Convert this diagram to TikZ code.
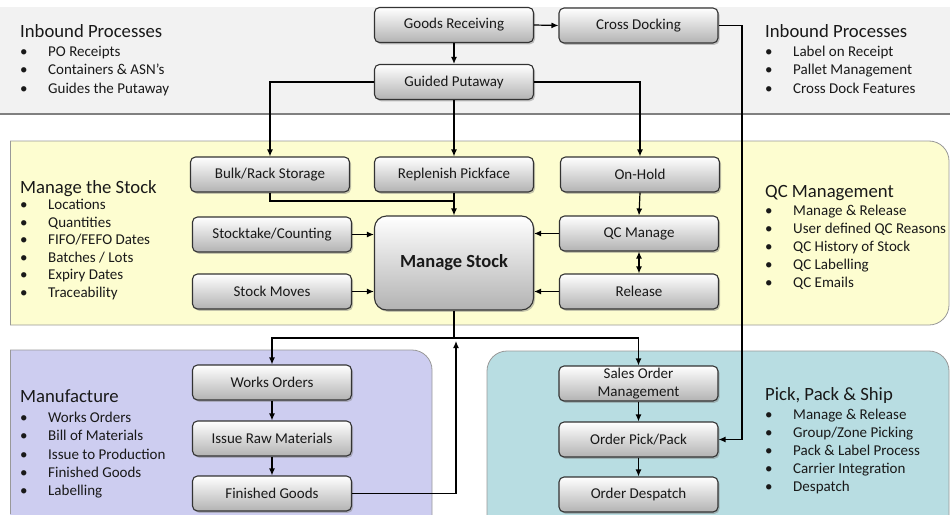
\documentclass[tikz,border=0pt]{standalone}
\usepackage{fontspec}
\setmainfont{Carlito}
\usetikzlibrary{shadows,arrows.meta,backgrounds,calc}
\definecolor{topband}{HTML}{F2F2F2}
\definecolor{yellowband}{HTML}{FDFDD0}
\definecolor{purpleband}{HTML}{CDCDF0}
\definecolor{tealband}{HTML}{B8DDE2}
\newcommand{\featlist}[4]{\fontsize{15}{#1}\selectfont\begin{tabular}[t]{@{}p{28pt}@{}l@{}}\multicolumn{2}{@{}l@{}}{\fontsize{18.7}{18}\selectfont #3}\\[#2pt] #4\end{tabular}}
\tikzset{
  procbox/.style={draw=black!80, line width=1.1pt, rounded corners=5pt, top color=white, bottom color=black!30,
    minimum width=159pt, minimum height=35pt, inner sep=2pt, font=\fontsize{15}{18}\selectfont, text=black!90,
    align=center, drop shadow={shadow xshift=1.5pt, shadow yshift=-1.8pt, opacity=0.45}},
  link/.style={line width=1.2pt, draw=black},
  arr/.style={link, -{Latex[length=7pt,width=6pt]}},
  dblarr/.style={link, {Latex[length=7pt,width=6pt]}-{Latex[length=7pt,width=6pt]}},
  band/.style={draw=black!40, line width=0.8pt},
  featl/.style={anchor=base west, inner sep=0pt, text=black!90},
}
\begin{document}
\begin{tikzpicture}[x=1pt,y=-1pt]
\useasboundingbox (0,0) rectangle (950,514);

% process boxes
\node[procbox] (gr) at (454,25) {Goods Receiving};
\node[procbox] (cd) at (638.5,25.5) {Cross Docking};
\node[procbox] (gp) at (454,82) {Guided Putaway};
\node[procbox] (bulk) at (270,174.5) {Bulk/Rack Storage};
\node[procbox] (rep) at (454,174.5) {Replenish Pickface};
\node[procbox] (onhold) at (640,174.5) {On-Hold};
\node[procbox, minimum height=94pt, rounded corners=12pt, font=\bfseries\fontsize{18.5}{20}\selectfont] (ms) at (454,263) {Manage Stock};
\node[procbox] (stk) at (272,234.5) {Stocktake/Counting};
\node[procbox] (moves) at (272,291.5) {Stock Moves};
\node[procbox] (qcm) at (639,233.5) {QC Manage};
\node[procbox] (rel) at (639,291.5) {Release};
\node[procbox] (wo) at (272,382.5) {Works Orders};
\node[procbox] (irm) at (272,438.5) {Issue Raw Materials};
\node[procbox] (fg) at (272,493.5) {Finished Goods};
\node[procbox] (so) at (638.5,383.5) {Sales Order\\Management};
\node[procbox] (opp) at (638.5,439.5) {Order Pick/Pack};
\node[procbox] (od) at (638.5,494.5) {Order Despatch};

% feature lists
\node[featl] (inl) at (20,37.5) {\featlist{18.5}{0}{Inbound Processes}{%
  \textbullet & PO Receipts\\ \textbullet & Containers \& ASN’s\\ \textbullet & Guides the Putaway}};
\node[featl] (inr) at (765,37.5) {\featlist{18.5}{0}{Inbound Processes}{%
  \textbullet & Label on Receipt\\ \textbullet & Pallet Management\\ \textbullet & Cross Dock Features}};
\node[featl] (mts) at (20,193.5) {\featlist{17.6}{-1.6}{Manage the Stock}{%
  \textbullet & Locations\\ \textbullet & Quantities\\ \textbullet & FIFO/FEFO Dates\\ \textbullet & Batches / Lots\\ \textbullet & Expiry Dates\\ \textbullet & Traceability}};
\node[featl] (qcl) at (765,197.5) {\featlist{18}{0}{QC Management}{%
  \textbullet & Manage \& Release\\ \textbullet & User defined QC Reasons\\ \textbullet & QC History of Stock\\ \textbullet & QC Labelling\\ \textbullet & QC Emails}};
\node[featl] (mfl) at (20,402.5) {\featlist{18.3}{1.7}{Manufacture}{%
  \textbullet & Works Orders\\ \textbullet & Bill of Materials\\ \textbullet & Issue to Production\\ \textbullet & Finished Goods\\ \textbullet & Labelling}};
\node[featl] (pps) at (765,400.5) {\featlist{18}{1}{Pick, Pack \& Ship}{%
  \textbullet & Manage \& Release\\ \textbullet & Group/Zone Picking\\ \textbullet & Pack \& Label Process\\ \textbullet & Carrier Integration\\ \textbullet & Despatch}};

% connectors
\coordinate (cdx) at (742,25.5);
\coordinate (bj) at (454,201);
\coordinate (split) at (454,338);
\coordinate (fgup) at (456,341);
\draw[arr] (gr.east) -- (cd.west);
\draw[arr] (gr.south) -- (gp.north);
\draw[arr] (cd.east) -- (cdx) |- (opp.east);
\draw[arr] (gp.west) -| (bulk.north);
\draw[arr] (gp.east) -| (onhold.north);
\draw[arr] (gp.south) -- (rep.north);
\draw[link] (bulk.south) |- (bj);
\draw[arr] (rep.south) -- (ms.north);
\draw[arr] (stk.east) -- (stk.east -| ms.west);
\draw[arr] (moves.east) -- (moves.east -| ms.west);
\draw[arr] (qcm.west) -- (qcm.west -| ms.east);
\draw[arr] (rel.west) -- (rel.west -| ms.east);
\draw[arr] (onhold.south) -- (qcm.north);
\draw[dblarr] (qcm.south) -- (rel.north);
\draw[link] (ms.south) -- (split);
\draw[arr] (split) -| (wo.north);
\draw[arr] (split) -| (so.north);
\draw[arr] (wo.south) -- (irm.north);
\draw[arr] (irm.south) -- (fg.north);
\draw[arr] (so.south) -- (opp.north);
\draw[arr] (opp.south) -- (od.north);
\draw[arr] (fg.east) -| (fgup);

% background bands
\begin{scope}[on background layer]
  \clip (0,0) rectangle (950,514);
  \fill[topband] (0,7) rectangle (950,114);
  \draw[black!50, line width=1.5pt] (0,114) -- (950,114);
  \begin{scope}
    \clip (10,0) rectangle (950,514);
    \draw[band, fill=yellowband, rounded corners=20pt] (-30,141) rectangle (949,325);
    \draw[band, fill=purpleband, rounded corners=20pt] (-30,350) rectangle (432,560);
  \end{scope}
  \draw[band] (10,141) -- (10,325);
  \draw[band] (10,350) -- (10,514);
  \draw[band, fill=tealband, rounded corners=20pt] (487,351) rectangle (949,560);
\end{scope}
\end{tikzpicture}
\end{document}
